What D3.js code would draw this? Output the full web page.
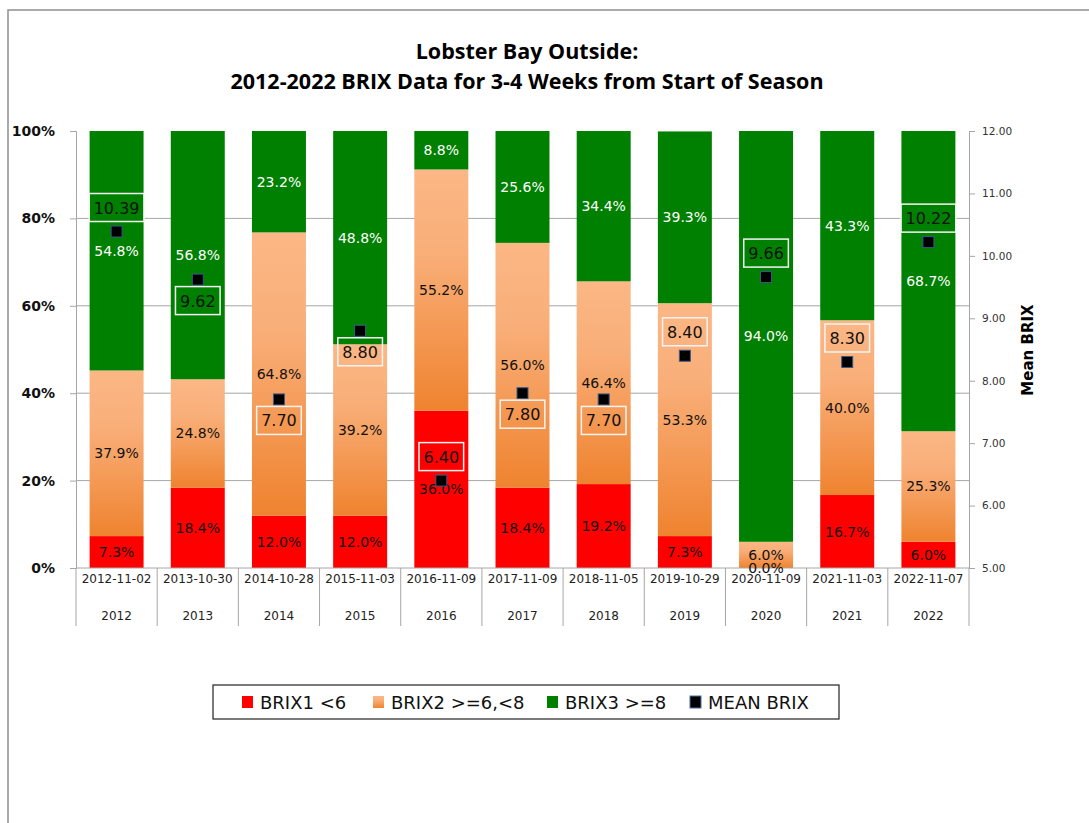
<!DOCTYPE html>
<html>
<head>
<meta charset="utf-8">
<script src="https://cdn.jsdelivr.net/npm/d3@7"></script>
<style>
  html, body { margin: 0; padding: 0; background: #fff; }
  svg { display: block; }
</style>
</head>
<body>
<svg id="chart" width="1089" height="823"></svg>
<script>
// Sampling dates (one per season) and the season year shown beneath each
const dates = ["2012-11-02","2013-10-30","2014-10-28","2015-11-03","2016-11-09","2017-11-09","2018-11-05","2019-10-29","2020-11-09","2021-11-03","2022-11-07"];
const years = ["2012","2013","2014","2015","2016","2017","2018","2019","2020","2021","2022"];

// Share of samples in each BRIX class (%)
const brix1 = [7.3, 18.4, 12.0, 12.0, 36.0, 18.4, 19.2, 7.3, 0.0, 16.7, 6.0];
const brix2 = [37.9, 24.8, 64.8, 39.2, 55.2, 56.0, 46.4, 53.3, 6.0, 40.0, 25.3];
const brix3 = [54.8, 56.8, 23.2, 48.8, 8.8, 25.6, 34.4, 39.3, 94.0, 43.3, 68.7];

// Mean BRIX per sampling date and where its value label sits
const meanBrix = [10.39, 9.62, 7.70, 8.80, 6.40, 7.80, 7.70, 8.40, 9.66, 8.30, 10.22];
const meanLabelSide = ["above","below","below","below","above","below","below","above","above","above","above"];

// Axis ticks
const pctTicks = [0, 20, 40, 60, 80, 100];
const brixTicks = [5, 6, 7, 8, 9, 10, 11, 12];

const seriesNames = ["BRIX1 <6", "BRIX2 >=6,<8", "BRIX3 >=8", "MEAN BRIX"];

const svg = d3.select("#chart");
const FONT = "'DejaVu Sans', Verdana, sans-serif";
const gray = "#a6a6a6";

// Outer frame (top and left edges)
svg.append("path")
  .attr("d", "M8,823 L8,10 L1089,10")
  .attr("fill", "none").attr("stroke", "#8f8f8f").attr("stroke-width", 1.5);

// Gradient for the middle class
const defs = svg.append("defs");
const grad = defs.append("linearGradient").attr("id", "orangeGrad")
  .attr("x1", 0).attr("y1", 0).attr("x2", 0).attr("y2", 1);
grad.append("stop").attr("offset", "0%").attr("stop-color", "#fbb785");
grad.append("stop").attr("offset", "35%").attr("stop-color", "#f9ae78");
grad.append("stop").attr("offset", "100%").attr("stop-color", "#ef832f");

const colors = ["#ff0000", "url(#orangeGrad)", "#008000"];

// Title
const title = svg.append("text")
  .attr("text-anchor", "middle")
  .attr("font-family", "'Open Sans', 'Noto Sans', sans-serif")
  .attr("font-weight", "bold").attr("font-size", 21.5).attr("fill", "#000");
title.append("tspan").attr("x", 527).attr("y", 59).text("Lobster Bay Outside:");
title.append("tspan").attr("x", 527).attr("y", 89).text("2012-2022 BRIX Data for 3-4 Weeks from Start of Season");

// Scales
const plotLeft = 76, plotRight = 969, plotTop = 131, plotBottom = 568;
const xCat = d3.scaleBand().domain(dates).range([plotLeft, plotRight]);
const barW = xCat.bandwidth() * 0.665;
const y = d3.scaleLinear().domain([0, 100]).range([plotBottom, plotTop]);
const y2 = d3.scaleLinear().domain([5, 12]).range([plotBottom, plotTop]);

// Horizontal gridlines
svg.append("g").selectAll("line")
  .data(pctTicks.filter(t => t > 0 && t < 100))
  .join("line")
  .attr("x1", plotLeft).attr("x2", plotRight)
  .attr("y1", d => y(d)).attr("y2", d => y(d))
  .attr("stroke", gray).attr("stroke-width", 1);

// Stacked bars
const rows = dates.map((d, i) => ({ date: d, vals: [brix1[i], brix2[i], brix3[i]] }));
const segs = [];
rows.forEach(r => {
  let acc = 0;
  r.vals.forEach((v, k) => {
    segs.push({ date: r.date, k, v, y0: acc, y1: acc + v });
    acc += v;
  });
});

svg.append("g").selectAll("rect")
  .data(segs.filter(s => s.v > 0))
  .join("rect")
  .attr("x", s => xCat(s.date) + (xCat.bandwidth() - barW) / 2)
  .attr("width", barW)
  .attr("y", s => y(s.y1))
  .attr("height", s => y(s.y0) - y(s.y1))
  .attr("fill", s => colors[s.k]);

// Left axis
const axL = svg.append("g").attr("transform", `translate(${plotLeft},0)`)
  .call(d3.axisLeft(y).tickValues(pctTicks).tickFormat(d => d + "%").tickSize(6).tickPadding(15));
axL.select(".domain").attr("stroke", gray);
axL.selectAll(".tick line").attr("stroke", gray);
axL.selectAll(".tick text").attr("font-family", FONT).attr("font-weight", "bold")
  .attr("font-size", 14).attr("fill", "#111");

// Right axis
const axR = svg.append("g").attr("transform", `translate(${plotRight},0)`)
  .call(d3.axisRight(y2).tickValues(brixTicks).tickFormat(d3.format(".2f")).tickSize(6).tickPadding(7));
axR.select(".domain").attr("stroke", gray);
axR.selectAll(".tick line").attr("stroke", gray);
axR.selectAll(".tick text").attr("font-family", FONT).attr("font-size", 10.5).attr("fill", "#333");

svg.append("text")
  .attr("transform", `translate(1033,350) rotate(-90)`)
  .attr("text-anchor", "middle")
  .attr("font-family", FONT).attr("font-weight", "bold").attr("font-size", 15)
  .attr("fill", "#000").text("Mean BRIX");

// Category axis: baseline, separators, two rows of labels
svg.append("line").attr("x1", plotLeft).attr("x2", plotRight).attr("y1", plotBottom).attr("y2", plotBottom)
  .attr("stroke", gray);
const edges = dates.map(d => xCat(d)).concat([plotRight]);
svg.append("g").selectAll("line").data(edges).join("line")
  .attr("x1", d => d).attr("x2", d => d)
  .attr("y1", plotBottom).attr("y2", 626)
  .attr("stroke", gray);
svg.append("g").selectAll("text").data(dates).join("text")
  .attr("x", d => xCat(d) + xCat.bandwidth() / 2).attr("y", 583)
  .attr("text-anchor", "middle").attr("font-family", FONT).attr("font-size", 12)
  .attr("fill", "#222").text(d => d);
svg.append("g").selectAll("text").data(years).join("text")
  .attr("x", (d, i) => xCat(dates[i]) + xCat.bandwidth() / 2).attr("y", 620)
  .attr("text-anchor", "middle").attr("font-family", FONT).attr("font-size", 12)
  .attr("fill", "#222").text(d => d);

// Segment value labels
svg.append("g").selectAll("text")
  .data(segs)
  .join("text")
  .attr("x", s => xCat(s.date) + xCat.bandwidth() / 2)
  .attr("y", s => y((s.y0 + s.y1) / 2) + 5)
  .attr("text-anchor", "middle")
  .attr("font-family", FONT).attr("font-size", 14)
  .attr("fill", s => s.k === 2 ? "#fff" : "#111")
  .text(s => s.v.toFixed(1) + "%");

// Mean BRIX markers
const means = dates.map((d, i) => ({ date: d, v: meanBrix[i], side: meanLabelSide[i] }));
svg.append("g").selectAll("rect")
  .data(means).join("rect")
  .attr("x", m => xCat(m.date) + xCat.bandwidth() / 2 - 5.5)
  .attr("y", m => y2(m.v) - 5.5)
  .attr("width", 11).attr("height", 11)
  .attr("fill", "#000").attr("stroke", "#3b5a8a").attr("stroke-width", 1);

// Mean BRIX value labels in outlined boxes
const ml = svg.append("g").selectAll("g").data(means).join("g")
  .attr("transform", m => `translate(${xCat(m.date) + xCat.bandwidth() / 2},${y2(m.v) + (m.side === "above" ? -24 : 21)})`);
ml.append("text")
  .attr("text-anchor", "middle").attr("y", 6)
  .attr("font-family", FONT).attr("font-size", 16).attr("fill", "#111")
  .text(m => m.v.toFixed(2));
ml.each(function () {
  const g = d3.select(this);
  const w = g.select("text").node().getComputedTextLength() + 9;
  g.insert("rect", "text")
    .attr("x", -w / 2).attr("y", -14).attr("width", w).attr("height", 28)
    .attr("fill", "none").attr("stroke", "#f4f4f4").attr("stroke-width", 1.5);
});

// Legend
const lg = svg.append("g");
lg.append("rect").attr("x", 213).attr("y", 685).attr("width", 626).attr("height", 34)
  .attr("fill", "#fff").attr("stroke", "#222").attr("stroke-width", 1.2);
const legX = [242, 373, 547, 690];
const legFill = ["#ff0000", "url(#orangeGrad)", "#008000", "#000"];
seriesNames.forEach((name, i) => {
  lg.append("rect").attr("x", legX[i]).attr("y", 696).attr("width", 11).attr("height", 12)
    .attr("fill", legFill[i])
    .attr("stroke", i === 3 ? "#4a6fa5" : "none").attr("stroke-width", 1);
  lg.append("text").attr("x", legX[i] + 18).attr("y", 709)
    .attr("font-family", FONT).attr("font-size", 18).attr("fill", "#111")
    .text(name);
});
</script>
</body>
</html>
